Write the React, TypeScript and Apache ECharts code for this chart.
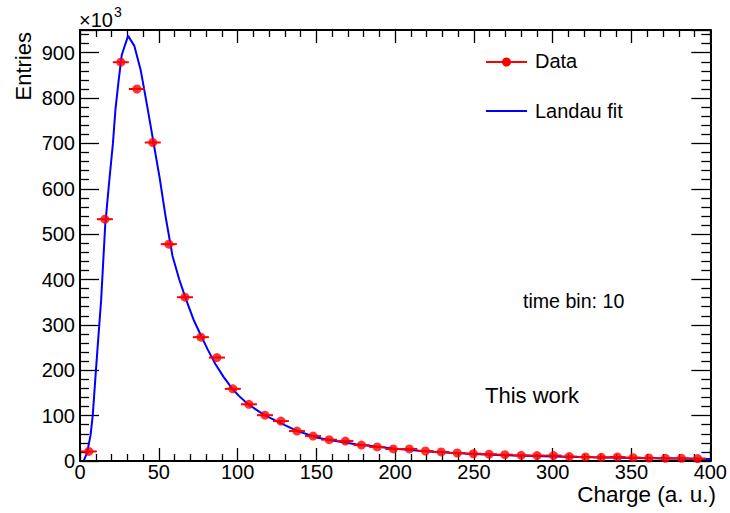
import React, { useEffect, useRef } from "react";
import * as echarts from "echarts";

// Data histogram (bin centres), values in units of 10^3
const DATA_X = [5.6, 15.8, 25.9, 36.1, 46.2, 56.4, 66.6, 76.7, 86.9, 97.0, 107.2, 117.4, 127.5, 137.7, 147.9, 158.1, 168.4, 178.6, 188.6, 198.8, 209.0, 219.2, 229.2, 239.4, 249.6, 259.6, 269.6, 280.0, 290.0, 300.5, 310.5, 320.8, 330.8, 341.0, 351.0, 361.0, 371.5, 381.7, 392.0];
const DATA_Y = [21, 533, 879, 820, 702, 478, 361, 273, 228, 159, 125, 101, 88, 66, 55, 47, 44, 35, 31, 26.5, 26.5, 22, 20, 17.6, 16, 15, 14, 12.6, 12, 12, 9.7, 8.8, 8, 8.8, 7.4, 6.6, 6, 6, 5.3];
const BIN_HALF = 5.08;

// Landau fit curve
const FIT_X = [2.5, 4.5, 6.7, 8.1, 9.8, 11.5, 13.4, 16.0, 18.5, 20.9, 22.5, 24.4, 26.5, 30.5, 34.5, 38.5, 42.5, 46.5, 50.5, 54.5, 58.7, 63, 67.1, 72, 77, 81, 85.9, 91, 96.2, 101, 106.7, 117.1, 130, 138, 150, 160, 175, 200, 225, 250, 275, 300, 325, 350, 375, 400];
const FIT_Y = [2, 18, 57, 101, 185, 266, 354, 520, 615, 700, 775, 835, 895, 937, 915, 862, 785, 705, 625, 535, 452, 400, 358, 312, 275, 246, 214, 186, 161, 143, 125, 101, 79, 66, 52, 45, 37, 27, 20, 15.5, 12, 10, 8, 6.5, 5.5, 4.5];

const X_TICKS = { min: 0, max: 400, interval: 50 };
const Y_TICKS = { min: 0, max: 950, interval: 100 };

const FONT = "Liberation Sans, Arial, Helvetica, sans-serif";

export default function App() {
  const ref = useRef<HTMLDivElement>(null);
  useEffect(() => {
    document.body.style.margin = "0";
    if (!ref.current) return;
    const chart = echarts.init(ref.current, undefined, { renderer: "svg" });

    const axisCommon = (len: number, minorLen: number) => ({
      axisLine: { show: true, onZero: false, lineStyle: { color: "#000", width: 2 } },
      axisTick: { show: true, inside: true, length: len, lineStyle: { color: "#000", width: 1.3 } },
      minorTick: { show: true, splitNumber: 5, length: minorLen, lineStyle: { color: "#000", width: 1.3 } },
      splitLine: { show: false },
      minorSplitLine: { show: false },
    });

    const option: any = {
      animation: false,
      grid: { left: 80, right: 13, top: 30, bottom: 52, containLabel: false },
      xAxis: [
        {
          type: "value",
          ...X_TICKS,
          position: "bottom",
          ...axisCommon(13, 7),
          axisLabel: { fontSize: 20, color: "#000", margin: 1, fontFamily: FONT, showMaxLabel: true },
        },
        {
          type: "value",
          ...X_TICKS,
          position: "top",
          ...axisCommon(13, 7),
          axisLabel: { show: false },
        },
      ],
      yAxis: [
        {
          type: "value",
          ...Y_TICKS,
          position: "left",
          ...axisCommon(19, 9),
          axisLabel: { fontSize: 20, color: "#000", margin: 5, fontFamily: FONT, showMaxLabel: false },
        },
        {
          type: "value",
          ...Y_TICKS,
          position: "right",
          ...axisCommon(19, 9),
          axisLabel: { show: false },
        },
      ],
      series: [
        {
          name: "Landau fit",
          type: "line",
          xAxisIndex: 0,
          yAxisIndex: 0,
          data: FIT_X.map((x, i) => [x, FIT_Y[i]]),
          showSymbol: false,
          symbol: "none",
          smooth: false,
          lineStyle: { color: "#0000ff", width: 2 },
          z: 1,
        },
        {
          name: "errors",
          type: "custom",
          xAxisIndex: 0,
          yAxisIndex: 0,
          data: DATA_X.map((x, i) => [x, DATA_Y[i]]),
          renderItem: (params: any, api: any) => {
            const x = api.value(0);
            const y = api.value(1);
            const p1 = api.coord([x - BIN_HALF, y]);
            const p2 = api.coord([x + BIN_HALF, y]);
            return {
              type: "line",
              shape: { x1: p1[0], y1: p1[1], x2: p2[0], y2: p2[1] },
              style: { stroke: "#ff0000", lineWidth: 2 },
            };
          },
          z: 2,
        },
        {
          name: "Data",
          type: "scatter",
          xAxisIndex: 0,
          yAxisIndex: 0,
          data: DATA_X.map((x, i) => [x, DATA_Y[i]]),
          symbol: "circle",
          symbolSize: 9,
          itemStyle: { color: "#ff0000" },
          z: 3,
        },
      ],
      graphic: [
        // x10^3 multiplier
        { type: "text", left: 79, top: 10, style: { text: "×10", fontSize: 20, fontFamily: FONT, fill: "#000" } },
        { type: "text", left: 114, top: 5, style: { text: "3", fontSize: 14, fontFamily: FONT, fill: "#000" } },
        // Axis titles
        {
          type: "text",
          x: 23,
          y: 32,
          rotation: Math.PI / 2,
          style: { text: "Entries", fontSize: 22, fontFamily: FONT, fill: "#000", align: "right", verticalAlign: "middle" },
        },
        {
          type: "text",
          x: 716,
          y: 494,
          style: { text: "Charge (a. u.)", fontSize: 22.5, fontFamily: FONT, fill: "#000", align: "right", verticalAlign: "middle" },
        },
        // Legend
        { type: "line", shape: { x1: 486, y1: 62, x2: 527, y2: 62 }, style: { stroke: "#ff0000", lineWidth: 2 } },
        { type: "circle", shape: { cx: 506.5, cy: 62, r: 4.5 }, style: { fill: "#ff0000" } },
        { type: "text", x: 535, y: 61, style: { text: "Data", fontSize: 20, fontFamily: FONT, fill: "#000", verticalAlign: "middle" } },
        { type: "line", shape: { x1: 486, y1: 111, x2: 527, y2: 111 }, style: { stroke: "#0000ff", lineWidth: 2 } },
        { type: "text", x: 535, y: 111, style: { text: "Landau fit", fontSize: 20, fontFamily: FONT, fill: "#000", verticalAlign: "middle" } },
        // Annotations
        { type: "text", x: 523, y: 301, style: { text: "time bin: 10", fontSize: 19.6, fontFamily: FONT, fill: "#000", verticalAlign: "middle" } },
        { type: "text", x: 485, y: 395, style: { text: "This work", fontSize: 22, fontFamily: FONT, fill: "#000", verticalAlign: "middle" } },
      ],
    };
    chart.setOption(option);
    return () => {
      chart.dispose();
    };
  }, []);
  return <div ref={ref} style={{ width: 730, height: 513 }} />;
}
